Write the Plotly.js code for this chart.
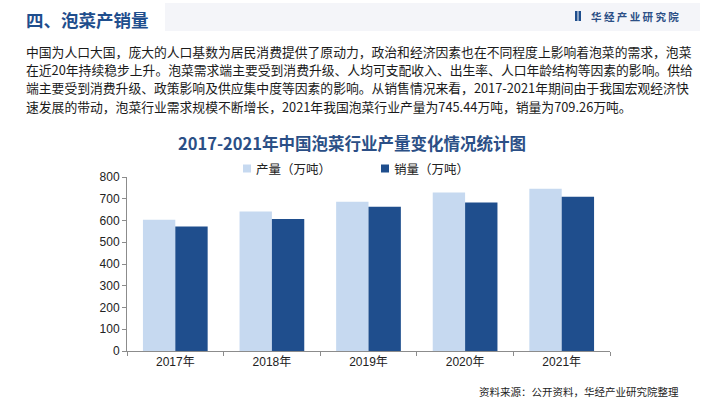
<!DOCTYPE html>
<html>
<head>
<meta charset="utf-8">
<script src="https://cdn.plot.ly/plotly-3.0.1.min.js"></script>
<style>html,body{margin:0;padding:0;background:#fff;}#chart{width:705px;height:400px;}</style>
</head>
<body>
<div id="chart"></div>
<script>
const years = ['2017年', '2018年', '2019年', '2020年', '2021年'];
const production = [603, 641, 686, 729, 745.44];
const sales = [572, 607, 663, 683, 709.26];
const seriesNames = ['产量（万吨）', '销量（万吨）'];
const seriesColors = ['#c6d9f0', '#1f4e8d'];
const pageHeading = '四、泡菜产销量';
const brand = '华 经 产 业 研 究 院';
const chartTitle = '2017-2021年中国泡菜行业产量变化情况统计图';
const sourceNote = '资料来源：公开资料，华经产业研究院整理';
const paragraph = [
  '中国为人口大国，庞大的人口基数为居民消费提供了原动力，政治和经济因素也在不同程度上影响着泡菜的需求，泡菜',
  '在近20年持续稳步上升。泡菜需求端主要受到消费升级、人均可支配收入、出生率、人口年龄结构等因素的影响。供给',
  '端主要受到消费升级、政策影响及供应集中度等因素的影响。从销售情况来看，2017-2021年期间由于我国宏观经济快',
  '速发展的带动，泡菜行业需求规模不断增长，2021年我国泡菜行业产量为745.44万吨，销量为709.26万吨。'
];

const W = 705, H = 400;
const M = {l: 127, r: 95, t: 177, b: 49};
const PW = W - M.l - M.r, PH = H - M.t - M.b;
const px = v => (v - M.l) / PW;
const py = v => (H - M.b - v) / PH;

const CJK = '"Noto Sans CJK SC", "Liberation Sans", sans-serif';
const NUM = '"Liberation Sans", Arial, "Noto Sans CJK SC", sans-serif';

const traces = [
  {type: 'bar', name: seriesNames[0], x: years, y: production,
   marker: {color: seriesColors[0]}, hoverinfo: 'y'},
  {type: 'bar', name: seriesNames[1], x: years, y: sales,
   marker: {color: seriesColors[1]}, hoverinfo: 'y'}
];

const annotations = [
  {text: '<b>' + pageHeading + '</b>', x: px(24), y: py(19), xanchor: 'left', yanchor: 'middle',
   font: {family: CJK, size: 17.5, color: '#1f4e8d'}},
  {text: '<b>' + brand + '</b>', x: px(681), y: py(16), xanchor: 'right', yanchor: 'middle',
   font: {family: CJK, size: 10.5, color: '#2b4f86'}},
  {text: '<b>' + chartTitle + '</b>', x: px(352), y: py(143), xanchor: 'center', yanchor: 'middle',
   font: {family: CJK, size: 16.5, color: '#2b4f86'}},
  {text: sourceNote, x: px(681), y: py(391), xanchor: 'right', yanchor: 'middle',
   font: {family: CJK, size: 10.5, color: '#222'}}
];
const lineY = [51, 70, 88, 106];
paragraph.forEach((t, i) => annotations.push({
  text: t, x: px(24), y: py(lineY[i]), xanchor: 'left', yanchor: 'middle',
  font: {family: CJK, size: 12.8, color: '#1a1a1a'}
}));
// manual legend
const legX = [243, 381];
seriesNames.forEach((n, i) => annotations.push({
  text: n, x: px(legX[i] + 11), y: py(168.5), xanchor: 'left', yanchor: 'middle',
  font: {family: CJK, size: 12.5, color: '#222'}
}));
annotations.forEach(a => { a.xref = 'paper'; a.yref = 'paper'; a.showarrow = false; });

const shapes = [
  {type: 'rect', x0: px(165), x1: px(700), y0: py(3), y1: py(31),
   fillcolor: 'rgba(236,239,245,0.6)', line: {width: 0}, layer: 'below'},
  {type: 'rect', x0: px(575), x1: px(577.5), y0: py(11), y1: py(21),
   fillcolor: '#1f4e8d', line: {width: 0}},
  {type: 'rect', x0: px(578.5), x1: px(581), y0: py(11), y1: py(21),
   fillcolor: '#1f4e8d', line: {width: 0}}
];
legX.forEach((x, i) => shapes.push({
  type: 'rect', x0: px(x), x1: px(x + 8), y0: py(164.5), y1: py(172.5),
  fillcolor: seriesColors[i], line: {width: 0}
}));
shapes.forEach(s => { s.xref = 'paper'; s.yref = 'paper'; });

const layout = {
  width: W, height: H,
  margin: M,
  paper_bgcolor: '#ffffff', plot_bgcolor: '#ffffff',
  barmode: 'group', bargap: 0.33, bargroupgap: 0,
  showlegend: false,
  xaxis: {type: 'category', showline: true, linecolor: '#8c8c8c', linewidth: 1,
          ticks: 'outside', tickson: 'boundaries', ticklen: 4, tickcolor: '#8c8c8c',
          tickfont: {family: NUM, size: 12, color: '#222'}, showgrid: false, zeroline: false,
          fixedrange: true},
  yaxis: {range: [0, 800], dtick: 100, tick0: 0, showline: true, linecolor: '#8c8c8c', linewidth: 1,
          ticks: 'outside', ticklen: 4, tickcolor: '#8c8c8c', showgrid: false, zeroline: false,
          tickfont: {family: NUM, size: 12, color: '#222'}, fixedrange: true},
  annotations: annotations,
  shapes: shapes
};

Plotly.newPlot('chart', traces, layout, {displayModeBar: false, staticPlot: true});
</script>
</body>
</html>
